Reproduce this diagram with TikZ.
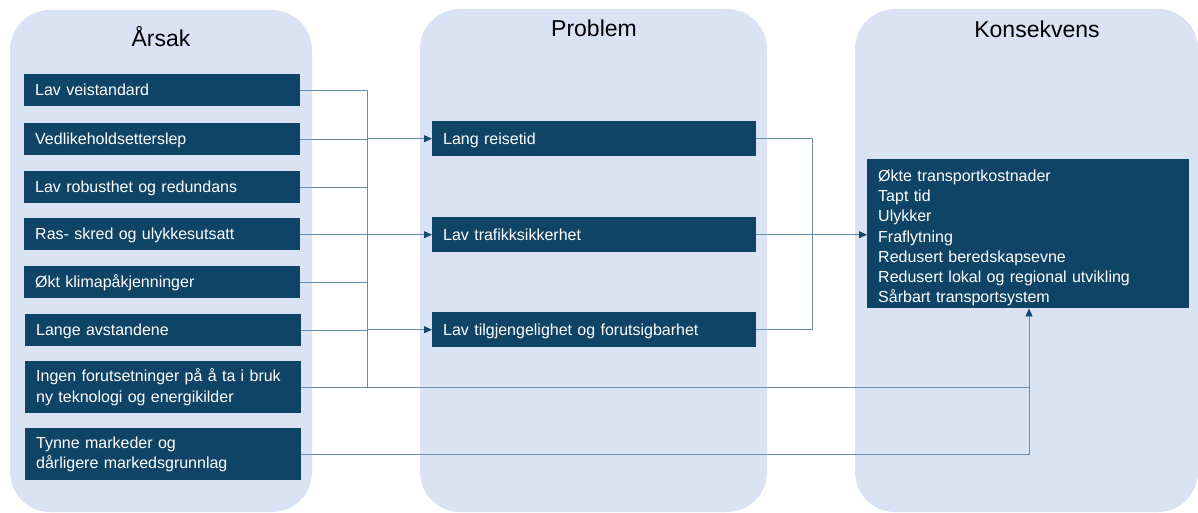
\documentclass[tikz,border=0pt]{standalone}
\usepackage{fontspec}
\setmainfont{Liberation Sans}
\usetikzlibrary{arrows.meta}
\definecolor{panelc}{HTML}{DAE3F3}
\definecolor{boxc}{HTML}{0F4467}
\definecolor{linec}{HTML}{6A8CAE}
\definecolor{arrc}{HTML}{16476D}
\begin{document}
\begin{tikzpicture}[x=1pt,y=-1pt,
  panel/.style={fill=panelc, rounded corners=40pt},
  title/.style={font=\fontsize{23}{27}\selectfont, anchor=base, text=black, inner sep=0pt},
  basebox/.style={fill=boxc, text=white, font=\fontsize{16}{20.3}\selectfont, anchor=north west, inner ysep=0pt, inner xsep=11pt, align=left},
  cause/.style={basebox, text width=254pt, minimum width=276pt, minimum height=32pt},
  causetwo/.style={basebox, text width=254pt, minimum width=276pt, minimum height=52pt},
  single/.style={text height=11.5pt, text depth=0pt},
  prob/.style={basebox, single, text width=302pt, minimum width=324pt, minimum height=35pt},
  conn/.style={draw=linec, line width=0.8pt},
  arr/.style={conn, -{Triangle[length=8pt,width=7pt,fill=arrc,color=arrc]}}
]
\useasboundingbox (0,0) rectangle (1198,513);
% panels
\fill[panel] (10,10) rectangle (312,512);
\fill[panel] (420,9) rectangle (767,512);
\fill[panel] (855,9) rectangle (1198,512);
% titles
\node[title] (t1) at (161,47) {Årsak};
\node[title] (t2) at (594,37) {Problem};
\node[title] (t3) at (1037,38) {Konsekvens};
% causes
\node[cause,single] (c1) at (24,74) {Lav veistandard};
\node[cause,single] (c2) at (24,123) {Vedlikeholdsetterslep};
\node[cause,single] (c3) at (24,171) {Lav robusthet og redundans};
\node[cause,single] (c4) at (24,218) {Ras- skred og ulykkesutsatt};
\node[cause,single] (c5) at (24,266) {Økt klimapåkjenninger};
\node[cause,single] (c6) at (25,314) {Lange avstandene};
\node[causetwo] (c7) at (25,361) {Ingen forutsetninger på å ta i bruk\\ny teknologi og energikilder};
\node[causetwo] (c8) at (25,428) {Tynne markeder og\\dårligere markedsgrunnlag};
% problems
\node[prob] (p1) at (432,121) {Lang reisetid};
\node[prob] (p2) at (432,217) {Lav trafikksikkerhet};
\node[prob] (p3) at (432,312) {Lav tilgjengelighet og forutsigbarhet};
% consequences
\node[basebox, text width=300pt, minimum width=322pt, minimum height=149pt] (k) at (867,159)
  {\rule{0pt}{20pt}Økte transportkostnader\\Tapt tid\\Ulykker\\Fraflytning\\Redusert beredskapsevne\\Redusert lokal og regional utvikling\\Sårbart transportsystem};
% helper coordinates
\coordinate (bus) at (367,0);
\coordinate (rx) at (812,0);
\coordinate (kx) at (1029,0);
% cause connectors
\foreach \c in {c1,c2,c3,c4,c5,c6}{
  \draw[conn] (\c.east) -- (\c.east -| bus);
}
\draw[conn] (c1.east -| bus) -- (c7.east -| bus);
\draw[arr] (p1.west -| bus) -- (p1.west);
\draw[arr] (p2.west -| bus) -- (p2.west);
\draw[arr] (p3.west -| bus) -- (p3.west);
\draw[conn] (c8.east) -- (c8.east -| kx) -- (c7.east -| kx);
\draw[arr] (c7.east) -- (c7.east -| kx) -- (k.south -| kx);
% problem connectors
\draw[conn] (p1.east) -- (p1.east -| rx) -- (p3.east -| rx) -- (p3.east);
\draw[arr] (p2.east) -- (p2.east -| k.west);
\end{tikzpicture}
\end{document}
